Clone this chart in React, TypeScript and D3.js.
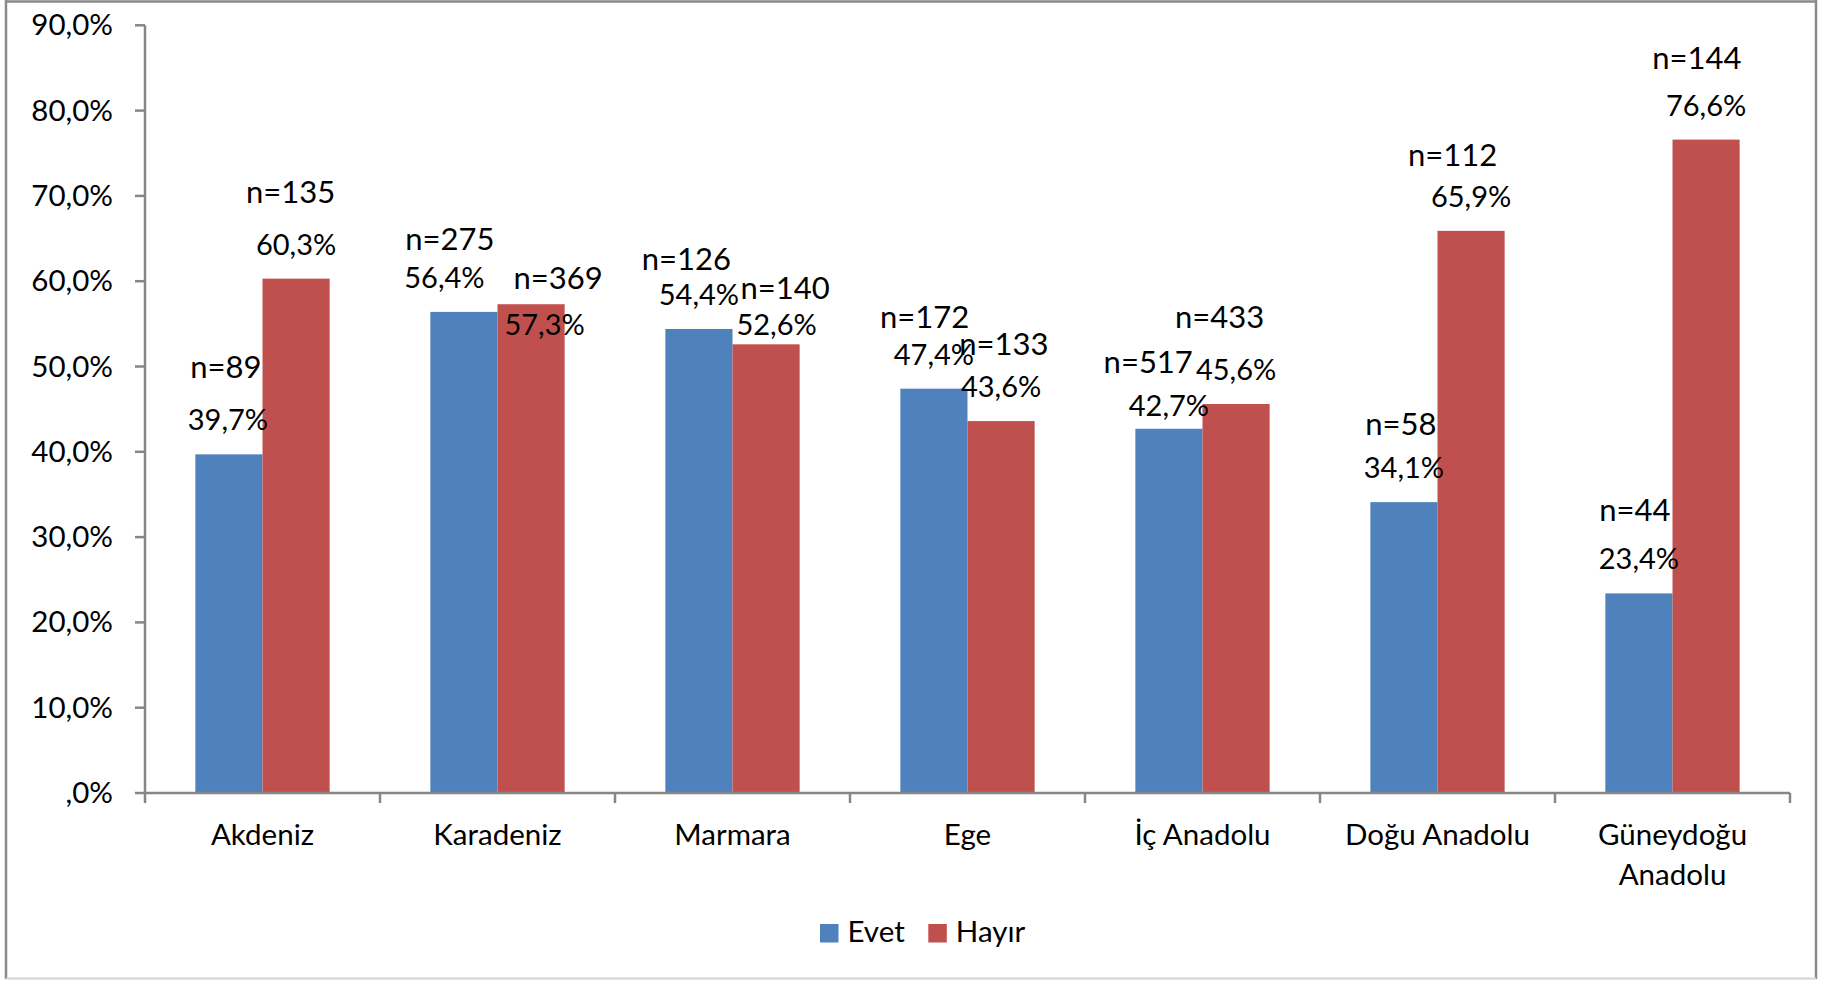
import React from "react";
import * as d3 from "d3";

const categories: string[][] = [
  ["Akdeniz"],
  ["Karadeniz"],
  ["Marmara"],
  ["Ege"],
  ["İç Anadolu"],
  ["Doğu Anadolu"],
  ["Güneydoğu", "Anadolu"],
];
const seriesNames = ["Evet", "Hayır"];
const evetPct = [39.7, 56.4, 54.4, 47.4, 42.7, 34.1, 23.4];
const hayirPct = [60.3, 57.3, 52.6, 43.6, 45.6, 65.9, 76.6];
const evetN = [89, 275, 126, 172, 517, 58, 44];
const hayirN = [135, 369, 140, 133, 433, 112, 144];
const yTicks = [0, 10, 20, 30, 40, 50, 60, 70, 80, 90];

// manual label nudges (layout only), [dx, dy] in px
const evetNNudge = [[-3, 0], [-14, 14.5], [-12.5, 17], [-9.3, 15.4], [-20.7, 20.3], [-3, 8.7], [-4, 4]];
const hayirNNudge = [[-5.5, 0.3], [27, 60.5], [19, 30.4], [2.7, 9.7], [-16.5, 0], [-18.5, 11.5], [-9.3, 5]];
const evetPctNudge = [[-1, 0], [-19.5, 0], [0, 0], [0, 0], [0, 11.7], [0, 0], [0, 0]];
const hayirPctNudge = [[0, 0], [13.5, 54.5], [10.5, 14.4], [0, 0], [0, 0], [0, 0], [0, 0]];

const COLORS = ["#4F81BD", "#C0504D"];
const FONT = "Lato, 'Open Sans', sans-serif";
const AXIS = "#868686";

const fmt = (v: number) => {
  const s = v.toFixed(1).replace(".", ",");
  return (s.startsWith("0,") ? s.slice(1) : s) + "%";
};

export default function App() {
  const W = 1831, H = 981;
  const left = 145, right = 1790, top = 25.3, bottom = 793;
  const keys = categories.map((c) => c.join(" "));
  const x0 = d3.scaleBand<string>().domain(keys).range([left, right]).paddingInner(0).paddingOuter(0);
  const step = x0.bandwidth();
  const gap = (step * 1.5) / 3.5;
  const x1 = d3.scaleBand<string>().domain(seriesNames).range([gap / 2, step - gap / 2]);
  const y = d3.scaleLinear().domain([0, 90]).range([bottom, top]);

  const series = [
    { name: "Evet", pct: evetPct, n: evetN, nN: evetNNudge, pN: evetPctNudge, color: COLORS[0] },
    { name: "Hayır", pct: hayirPct, n: hayirN, nN: hayirNNudge, pN: hayirPctNudge, color: COLORS[1] },
  ];

  return (
    <svg
      width={W}
      height={H}
      style={{ position: "absolute", left: 0, top: 0, display: "block", background: "#fff" }}
      fontFamily={FONT}
    >
      <rect x={0} y={0} width={W} height={H} fill="#fff" />
      {/* outer frame */}
      <line x1={6} y1={1.5} x2={1816} y2={1.5} stroke="#8a8a8a" strokeWidth={2.5} />
      <line x1={6} y1={0} x2={6} y2={979} stroke="#8a8a8a" strokeWidth={2.5} />
      <line x1={1816} y1={0} x2={1816} y2={979} stroke="#8a8a8a" strokeWidth={2.5} />
      <line x1={6} y1={978.5} x2={1816} y2={978.5} stroke="#d4d4d4" strokeWidth={2} />

      {/* bars */}
      {series.map((s, si) =>
        keys.map((k, i) => {
          const bx = (x0(k) as number) + (x1(s.name) as number);
          return (
            <rect
              key={`b${si}-${i}`}
              x={bx}
              y={y(s.pct[i])}
              width={x1.bandwidth()}
              height={bottom - y(s.pct[i])}
              fill={s.color}
            />
          );
        })
      )}

      {/* y axis */}
      <line x1={left} y1={top} x2={left} y2={bottom} stroke={AXIS} strokeWidth={2.5} />
      {yTicks.map((t) => (
        <g key={`yt${t}`}>
          <line x1={left - 10} y1={y(t)} x2={left} y2={y(t)} stroke={AXIS} strokeWidth={2.5} />
          <text x={113} y={y(t) + 10} textAnchor="end" fontSize={29.5} fill="#000">
            {fmt(t)}
          </text>
        </g>
      ))}

      {/* x axis */}
      <line x1={left} y1={bottom} x2={right} y2={bottom} stroke={AXIS} strokeWidth={2.5} />
      {[...keys.map((k) => x0(k) as number), right].map((tx, i) => (
        <line key={`xt${i}`} x1={tx} y1={bottom} x2={tx} y2={bottom + 10} stroke={AXIS} strokeWidth={2.5} />
      ))}
      {categories.map((lines, i) => (
        <text key={`xl${i}`} x={(x0(keys[i]) as number) + step / 2} y={844.5} textAnchor="middle" fontSize={29.5} fill="#000">
          {lines.map((ln, j) => (
            <tspan key={j} x={(x0(keys[i]) as number) + step / 2} dy={j === 0 ? 0 : 40}>
              {ln}
            </tspan>
          ))}
        </text>
      ))}

      {/* labels */}
      {series.map((s, si) =>
        keys.map((k, i) => {
          const cx = (x0(k) as number) + (x1(s.name) as number) + x1.bandwidth() / 2;
          const ty = y(s.pct[i]);
          return (
            <g key={`l${si}-${i}`}>
              <text x={cx + s.nN[i][0]} y={ty - 76 + s.nN[i][1]} textAnchor="middle" fontSize={31} fill="#000">
                {`n=${s.n[i]}`}
              </text>
              <text x={cx + s.pN[i][0]} y={ty - 24 + s.pN[i][1]} textAnchor="middle" fontSize={29} fill="#000">
                {fmt(s.pct[i])}
              </text>
            </g>
          );
        })
      )}

      {/* legend */}
      {series.map((s, si) => {
        const lx = si === 0 ? 820 : 928.3;
        return (
          <g key={`lg${si}`}>
            <rect x={lx} y={924} width={18.5} height={18.5} fill={s.color} />
            <text x={lx + 27.5} y={942} fontSize={29.5} fill="#000">
              {s.name}
            </text>
          </g>
        );
      })}
    </svg>
  );
}
